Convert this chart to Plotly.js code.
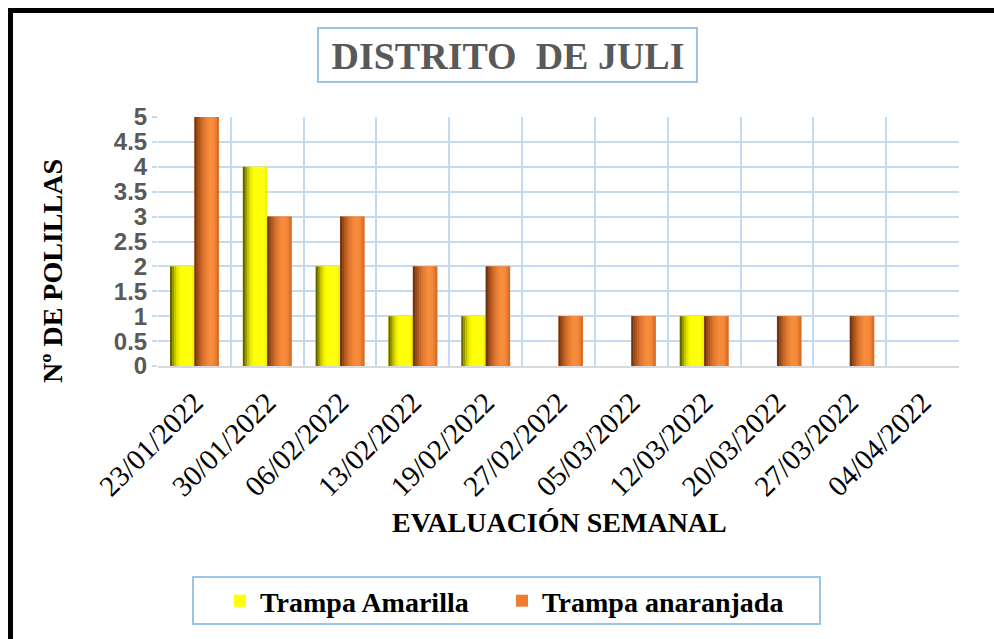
<!DOCTYPE html>
<html>
<head>
<meta charset="utf-8">
<script src="https://cdn.plot.ly/plotly-3.0.1.min.js"></script>
<style>
  html, body { margin: 0; padding: 0; background: #ffffff; }
  #wrap { position: relative; width: 994px; height: 639px; overflow: hidden; }
  #chart { width: 994px; height: 639px; }
  #frame { position: absolute; left: 8px; top: 8px; width: 990px; height: 640px;
           border-top: 5px solid #000; border-left: 5px solid #000; pointer-events: none; }
</style>
</head>
<body>
<div id="wrap">
  <div id="chart"></div>
  <div id="frame"></div>
</div>
<script>
// ---- data ----
const fechas = ['23/01/2022','30/01/2022','06/02/2022','13/02/2022','19/02/2022',
                '27/02/2022','05/03/2022','12/03/2022','20/03/2022','27/03/2022','04/04/2022'];
const trampaAmarilla   = [2, 4, 2, 1, 1, 0, 0, 1, 0, 0, 0];
const trampaAnaranjada = [5, 3, 3, 2, 2, 1, 1, 1, 1, 1, 0];
const yTicks = [0, 0.5, 1, 1.5, 2, 2.5, 3, 3.5, 4, 4.5, 5];

// ---- styling helpers ----
function hexToRgb(h){ h=h.replace('#',''); return [parseInt(h.slice(0,2),16),parseInt(h.slice(2,4),16),parseInt(h.slice(4,6),16)]; }
function gradAt(stops, t){
  for (let i=0;i<stops.length-1;i++){
    const [t0,c0]=stops[i], [t1,c1]=stops[i+1];
    if (t>=t0 && t<=t1){
      const f=(t-t0)/(t1-t0), a=hexToRgb(c0), b=hexToRgb(c1);
      return 'rgb('+a.map((v,k)=>Math.round(v+(b[k]-v)*f)).join(',')+')';
    }
  }
  return stops[stops.length-1][1];
}
const yellowStops = [[0,'#4a4a00'],[0.1,'#8a8a00'],[0.25,'#d8d800'],[0.42,'#ffff00'],[0.85,'#ffff14'],[1,'#ecec00']];
const orangeStops = [[0,'#5e2c0c'],[0.15,'#a04e1a'],[0.35,'#d8712c'],[0.6,'#f98e3e'],[0.82,'#f5893a'],[1,'#cc6620']];

const W = 0.335, N = 12;
const traces = [];
function addSeries(name, vals, solid, stops, base){
  traces.push({type:'bar', name:name, x:fechas, y:vals, offset:base, width:W,
               marker:{color:solid, line:{width:0}}, showlegend:true, hoverinfo:'x+y'});
  for (let i=0;i<N;i++){
    const t=(i+0.5)/N;
    traces.push({type:'bar', name:name, x:fechas, y:vals,
                 offset:base + i*W/N, width: W/N + (i<N-1?0.004:0),
                 marker:{color:gradAt(stops,t), line:{width:0}},
                 showlegend:false, hoverinfo:'skip'});
  }
}
addSeries('Trampa Amarilla', trampaAmarilla, '#FFFF00', yellowStops, -W);
addSeries('Trampa anaranjada', trampaAnaranjada, '#ED7D31', orangeStops, 0);

// pixel -> paper helpers (plot area 158..959 x 117..366)
const L=158, R=959, T=117, B=366;
const px = v => (v-L)/(R-L);
const py = v => (B-v)/(B-T);
const gridCol = '#C5DAF0';
const SERIF = "Liberation Serif";
const SANS = "Liberation Sans";

const layout = {
  width: 994, height: 639,
  font: {family: SERIF, color: '#000'},
  paper_bgcolor: '#ffffff', plot_bgcolor: '#ffffff',
  margin: {l: L, r: 994-R, t: T, b: 639-B},
  barmode: 'overlay',
  showlegend: true,
  title: {text: 'DISTRITO\u00a0 DE JULI', x: 508/994, xanchor: 'center', y: 1-56/639, yanchor: 'middle',
          font: {family: SERIF, size: 38, color: '#595959', weight: 'bold'}},
  xaxis: {type: 'category', tickson: 'boundaries', showgrid: true, gridcolor: gridCol, gridwidth: 2,
          showline: true, linecolor: '#D9D9D9', linewidth: 2, ticks: '', tickangle: -45,
          ticklabelstandoff: 6,
          tickfont: {family: SERIF, size: 29, color: '#000', weight: 'normal'},
          automargin: false, fixedrange: true},
  yaxis: {range: [0, 5], tickvals: yTicks, ticktext: yTicks.map(String), showgrid: true, gridcolor: gridCol, gridwidth: 2,
          zeroline: false, showline: false, ticks: 'outside', ticklen: 5, tickcolor: gridCol, tickwidth: 2,
          tickfont: {family: SANS, size: 24, color: '#595959', weight: 'bold'},
          automargin: false, fixedrange: true},
  legend: {orientation: 'h', x: px(220), xanchor: 'left', y: py(601), yanchor: 'middle',
           bgcolor: 'rgba(0,0,0,0)', borderwidth: 0, entrywidth: 237, entrywidthmode: 'pixels',
           font: {family: SERIF, size: 28, color: '#000', weight: 'bold'}},
  shapes: [
    {type: 'rect', xref: 'paper', yref: 'paper', x0: px(318), x1: px(697), y0: py(82), y1: py(28),
     line: {color: '#9DC3E6', width: 2}, fillcolor: 'rgba(0,0,0,0)', layer: 'above'},
    {type: 'rect', xref: 'paper', yref: 'paper', x0: px(193), x1: px(820), y0: py(624), y1: py(577),
     line: {color: '#9DC3E6', width: 2}, fillcolor: 'rgba(0,0,0,0)', layer: 'above'}
  ],
  annotations: [
    {text: 'Nº DE POLILLAS', xref: 'paper', yref: 'paper', x: px(52), y: py(271), xanchor: 'center', yanchor: 'middle',
     textangle: -90, showarrow: false,
     font: {family: SERIF, size: 28, color: '#000', weight: 'bold'}},
    {text: 'EVALUACIÓN SEMANAL', xref: 'paper', yref: 'paper', x: px(559), y: py(522), xanchor: 'center', yanchor: 'middle',
     showarrow: false,
     font: {family: SERIF, size: 28, color: '#000', weight: 'bold'}}
  ]
};

Plotly.newPlot('chart', traces, layout, {displayModeBar: false, staticPlot: true});
</script>
</body>
</html>
